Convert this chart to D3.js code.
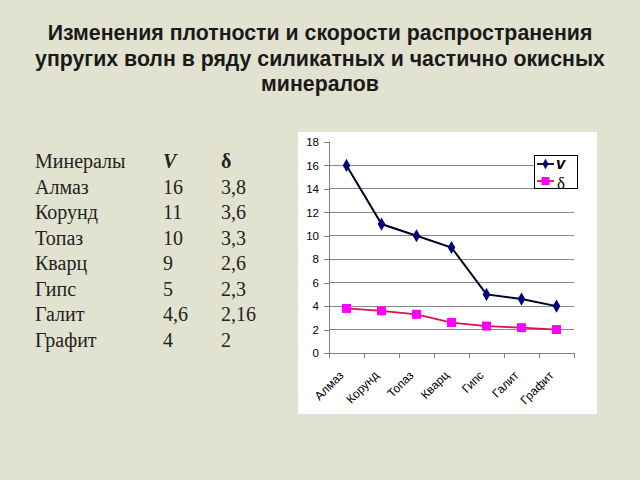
<!DOCTYPE html>
<html><head><meta charset="utf-8">
<script src="https://cdn.jsdelivr.net/npm/d3@7"></script>
<style>body{margin:0;background:#e2e2d0;}svg{display:block;}</style>
</head><body>
<svg id="c" width="640" height="480"></svg>
<script>
const titleLines = ["Изменения плотности и скорости распространения","упругих волн в ряду силикатных и частично окисных","минералов"];
const minerals = ["Алмаз","Корунд","Топаз","Кварц","Гипс","Галит","Графит"];
const vValues = [16, 11, 10, 9, 5, 4.6, 4];
const dValues = [3.8, 3.6, 3.3, 2.6, 2.3, 2.16, 2];
const vLabels = ["16","11","10","9","5","4,6","4"];
const dLabels = ["3,8","3,6","3,3","2,6","2,3","2,16","2"];
const tableHeader = ["Минералы","V","δ"];
const yTicks = [0,2,4,6,8,10,12,14,16,18];

const svg = d3.select("#c");
svg.append("rect").attr("width",640).attr("height",480).attr("fill","#e2e2d0");

// title
svg.append("g").selectAll("text").data(titleLines).join("text")
  .attr("x",320).attr("y",(d,i)=>40+i*25.5).attr("text-anchor","middle")
  .attr("font-family","Liberation Sans, Arial, sans-serif").attr("font-weight","bold")
  .attr("font-size",21.3).attr("fill","#1a1a1a").text(d=>d);

// table
const tbl = svg.append("g").attr("font-family","Liberation Serif, Times New Roman, serif").attr("font-size",20).attr("fill","#222");
const colX = [35,163,221];
const rowY = i => 168 + i*25.5;
tbl.append("text").attr("x",colX[0]).attr("y",rowY(0)).text(tableHeader[0]);
tbl.append("text").attr("x",colX[1]).attr("y",rowY(0)).attr("font-weight","bold").attr("font-style","italic").text(tableHeader[1]);
tbl.append("text").attr("x",colX[2]).attr("y",rowY(0)).attr("font-weight","bold").text(tableHeader[2]);
minerals.forEach((m,i)=>{
  tbl.append("text").attr("x",colX[0]).attr("y",rowY(i+1)).text(m);
  tbl.append("text").attr("x",colX[1]).attr("y",rowY(i+1)).text(vLabels[i]);
  tbl.append("text").attr("x",colX[2]).attr("y",rowY(i+1)).text(dLabels[i]);
});

// chart box
svg.append("rect").attr("x",298).attr("y",132).attr("width",299).attr("height",282).attr("fill","#ffffff");

const x = d3.scaleBand().domain(minerals).range([329,574]);
const y = d3.scaleLinear().domain([0,18]).range([353,142]);

// gridlines
svg.append("g").selectAll("line").data(yTicks.filter(t=>t>0 && t<18)).join("line")
  .attr("x1",329).attr("x2",574).attr("y1",d=>y(d)).attr("y2",d=>y(d))
  .attr("stroke","#8a8a8a").attr("stroke-width",1).attr("shape-rendering","crispEdges");

// y axis
const yAxis = svg.append("g").attr("transform","translate(329,0)")
  .call(d3.axisLeft(y).tickValues(yTicks).tickSize(5).tickPadding(5));
yAxis.selectAll("path,line").attr("stroke","#808080").attr("shape-rendering","crispEdges");
yAxis.selectAll("text").attr("font-family","Liberation Sans, Arial, sans-serif").attr("font-size",11.5).attr("fill","#000");

// x axis ticks at band boundaries
const bounds = minerals.map(m=>x(m)).concat([x.range()[1]]);
const xAxisG = svg.append("g");
xAxisG.append("line").attr("x1",329).attr("x2",574).attr("y1",y(0)).attr("y2",y(0)).attr("stroke","#808080").attr("shape-rendering","crispEdges");
xAxisG.selectAll("line.t").data(bounds).join("line").attr("class","t")
  .attr("x1",d=>d).attr("x2",d=>d).attr("y1",y(0)).attr("y2",y(0)+5)
  .attr("stroke","#808080").attr("shape-rendering","crispEdges");
xAxisG.selectAll("text").data(minerals).join("text")
  .attr("transform",d=>`translate(${x(d)+x.bandwidth()/2-2},${y(0)+23}) rotate(-45)`)
  .attr("text-anchor","end").attr("font-family","Liberation Sans, Arial, sans-serif")
  .attr("font-size",12).attr("fill","#000").text(d=>d);

const cx = (d,i)=>x(minerals[i])+x.bandwidth()/2;
const line = d3.line().x((d,i)=>cx(d,i)).y(d=>y(d));

// delta series
svg.append("path").datum(dValues).attr("d",line).attr("fill","none").attr("stroke","#e0104a").attr("stroke-width",1.8);
svg.append("g").selectAll("rect").data(dValues).join("rect")
  .attr("x",(d,i)=>cx(d,i)-4.5).attr("y",d=>y(d)-4.5).attr("width",9).attr("height",9).attr("fill","#ff00ff");

// v series
svg.append("path").datum(vValues).attr("d",line).attr("fill","none").attr("stroke","#000022").attr("stroke-width",2);
svg.append("g").selectAll("path.m").data(vValues).join("path").attr("class","m")
  .attr("d",d3.symbol(d3.symbolDiamond, 50))
  .attr("transform",(d,i)=>`translate(${cx(d,i)},${y(d)})`).attr("fill","#000080");

// legend
const lg = svg.append("g");
lg.append("rect").attr("x",534.5).attr("y",155.5).attr("width",43).attr("height",33).attr("fill","#fff").attr("stroke","#000").attr("stroke-width",1);
lg.append("line").attr("x1",537).attr("x2",554).attr("y1",164).attr("y2",164).attr("stroke","#000022").attr("stroke-width",1.8);
lg.append("path").attr("d",d3.symbol(d3.symbolDiamond,32)).attr("transform","translate(545.5,164)").attr("fill","#000080");
lg.append("text").attr("x",556).attr("y",169).attr("font-family","Liberation Sans, Arial, sans-serif").attr("font-weight","bold").attr("font-style","italic").attr("font-size",16.5).text("v");
lg.append("line").attr("x1",537).attr("x2",554).attr("y1",181).attr("y2",181).attr("stroke","#e0104a").attr("stroke-width",1.8);
lg.append("rect").attr("x",541.5).attr("y",177).attr("width",8).attr("height",8).attr("fill","#ff00ff");
lg.append("text").attr("x",557).attr("y",188.5).attr("font-family","Liberation Serif, Times New Roman, serif").attr("font-size",17).text("δ");
</script>
</body></html>
